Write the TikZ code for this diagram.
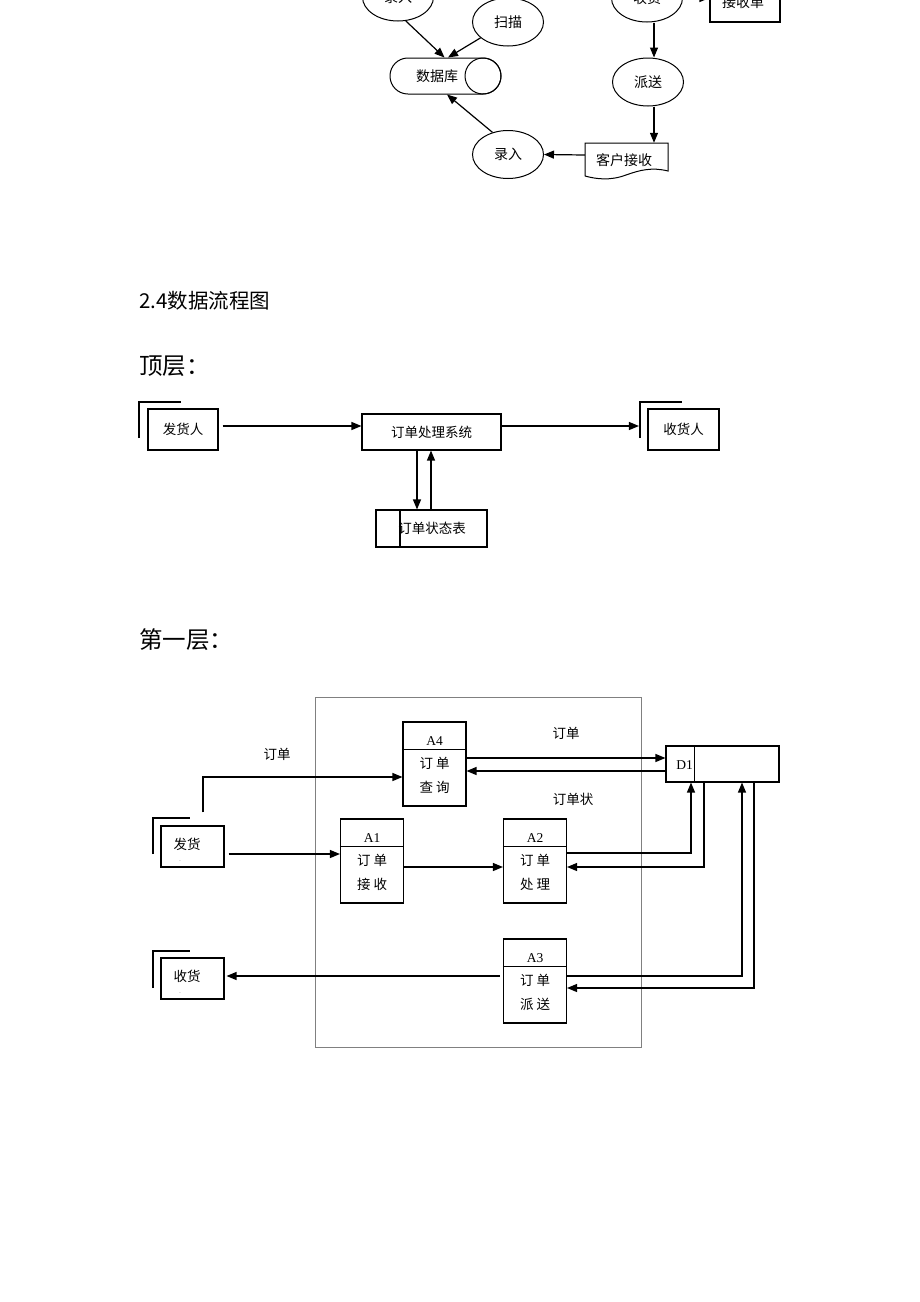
\documentclass[tikz,border=0pt]{standalone}
\usepackage{fontspec}
\setmainfont{Noto Sans CJK SC}
\newfontfamily\latf{Liberation Serif}
\usetikzlibrary{arrows.meta,calc,shapes.geometric}
\newcommand\fsm{\fontsize{13.5}{14}\selectfont}
\newcommand\ftop{\fontsize{14}{15}\selectfont}
\tikzset{
  ln/.style={line width=1.1pt},
  arr/.style={line width=1.2pt,-{Triangle[length=10pt,width=8pt]}},
  bx/.style={draw,line width=1.1pt,inner sep=0pt,font=\fsm},
  ell/.style={draw,ellipse,line width=1pt,minimum width=71pt,minimum height=48pt,inner sep=0pt,font=\ftop},
  pr/.style={bx,minimum width=63pt,minimum height=84pt},
  lbl/.style={inner sep=0pt,font=\fsm},
  hd/.style={inner sep=0pt,anchor=west},
}
\begin{document}
\begin{tikzpicture}[x=1pt,y=-1pt]
\useasboundingbox (0,0) rectangle (920,1302);
\clip (0,0) rectangle (920,1302);
\fill[white] (0,0) rectangle (920,1302);

% ---------------- top flow chart ----------------
\node[ell] (lr1) at (398,-3) {录入};
\node[ell] (sm) at (508,22) {扫描};
\node[draw,line width=1pt,rounded corners=17.9pt,minimum width=111pt,minimum height=36pt,inner sep=0pt] (db) at (445.5,76) {};
\node[draw,circle,line width=1pt,minimum size=36pt,inner sep=0pt] (dbc) at (483,76) {};
\node[lbl,font=\ftop] (dbt) at (437,76) {数据库};
\draw[arr] (lr1.-72) -- ([xshift=-1pt]db.north);
\draw[arr] (sm.-150) -- ([xshift=2.5pt]db.north);
\node[ell] (lr2) at (508,154.5) {录入};
\draw[arr] (lr2.125) -- ([xshift=1.5pt]db.south);

\node[ell] (shou) at (647,-2) {收货};
\node[bx,minimum width=70pt,minimum height=44pt,font=\ftop] (jsd) at (745,0) {};
\node[lbl,font=\ftop] (jsdt) at (743,2) {接收单};
\draw[arr] (shou.east) -- (shou.east -| jsd.west);
\node[ell] (ps) at (648,82) {派送};
\draw[arr] ([xshift=7pt]shou.south) -- ([xshift=6pt]ps.north);
\node[minimum width=83pt,minimum height=35pt,inner sep=0pt] (kh) at (626.5,160.5) {};
\draw[line width=1pt] (585,176) -- (585,143) -- (668,143) -- (668,171)
   .. controls (652,167) and (640,170) .. (626,175)
   .. controls (610,181) and (596,179) .. (585,176);
\node[lbl,font=\ftop] (kht) at (624,160) {客户接收};
\draw[arr] ([xshift=6pt]ps.south) -- ([xshift=27.5pt]kh.north);
\draw[arr] ([yshift=5.5pt]kh.west) -- (lr2.east);

% ---------------- headings ----------------
\node[hd,font=\fontsize{20.5}{22}\selectfont] (h1) at (139,301) {2.4数据流程图};
\node[hd,font=\fontsize{23.5}{25}\selectfont] (h2) at (139,366) {顶层：};

% ---------------- top level DFD ----------------
\node[bx,minimum width=70pt,minimum height=41pt] (snd) at (183,429.5) {发货人};
\draw[ln] (139,438) -- (139,402) -- (181,402);
\node[bx,minimum width=139pt,minimum height=36pt] (sys) at (431.5,432) {订单处理系统};
\node[bx,minimum width=71pt,minimum height=41pt] (rcv) at (683.5,429.5) {收货人};
\draw[ln] (640,438) -- (640,402) -- (682,402);
\node[bx,minimum width=111pt,minimum height=37pt] (tbl) at (431.5,528.5) {};
\draw[ln] ([xshift=24.5pt]tbl.north west) -- ([xshift=24.5pt]tbl.south west);
\node[lbl] (tblt) at (432,528) {订单状态表};
\draw[arr] ([xshift=4pt,yshift=3.5pt]snd.east) -- ([yshift=6pt]sys.west);
\draw[arr] ([yshift=6pt]sys.east) -- ([xshift=-8.5pt,yshift=3.5pt]rcv.west);
\draw[arr] ([xshift=-14.5pt]sys.south) -- ([xshift=-14.5pt]tbl.north);
\draw[arr] ([xshift=-0.5pt]tbl.north) -- ([xshift=-0.5pt]sys.south);

% ---------------- first level ----------------
\node[hd,font=\fontsize{23.5}{25}\selectfont] (h3) at (139,640) {第一层：};
\draw[gray,line width=0.7pt] (315.5,697.5) rectangle (641.5,1047.5);

% processes
\foreach \nm/\cx/\cy/\lab/\ra/\rb/\rc/\rd in {A4/434.5/764/A4/订/单/查/询, A1/372/861/A1/订/单/接/收, A2/535/861/A2/订/单/处/理, A3/535/981/A3/订/单/派/送}{
  \node[pr] (\nm) at (\cx,\cy) {};
  \draw[ln] ([yshift=-28pt]\nm.north west) -- ([yshift=-28pt]\nm.north east);
  \node[lbl,font=\latf\fsm] (\nm-l) at ([yshift=-20pt]\nm.north) {\lab};
  \node[lbl] (\nm-r1) at ([yshift=-42pt]\nm.north) {\ra\hspace{3pt}\rb};
  \node[lbl] (\nm-r2) at ([yshift=-66pt]\nm.north) {\rc\hspace{3pt}\rd};
}

% data store D1
\node[bx,minimum width=113pt,minimum height=36pt] (D1) at (722.5,764) {};
\draw[ln] ([xshift=29pt]D1.north west) -- ([xshift=29pt]D1.south west);
\node[lbl,font=\latf\fsm] (D1t) at (684.5,765) {D1};

% external entities
\node[bx,minimum width=63pt,minimum height=41pt] (fh) at (192.5,846.5) {};
\node[lbl] (fht) at (187,844) {发货};
\node[inner sep=0pt,font=\fontsize{7}{7}\selectfont,text=gray] (fhd) at (180,861) {.};
\draw[ln] (153,854) -- (153,818) -- (190,818);
\node[bx,minimum width=63pt,minimum height=41pt] (sh2) at (192.5,978.5) {};
\node[lbl] (sh2t) at (187,976) {收货};
\node[inner sep=0pt,font=\fontsize{7}{7}\selectfont,text=gray] (sh2d) at (180,993) {.};
\draw[ln] (153,988) -- (153,951) -- (190,951);

% flows
\draw[arr] ([xshift=4pt,yshift=-7.5pt]fh.east) -- ([yshift=7pt]A1.west);
\draw[arr] ([xshift=10.5pt,yshift=13pt]fh.north) |- ([yshift=-13pt]A4.west);
\node[lbl] (l1) at (277,754) {订单};
\draw[arr] ([yshift=6pt]A4.east) -- ([yshift=6pt]D1.west);
\draw[arr] ([yshift=-7pt]D1.west) -- ([yshift=-7pt]A4.east);
\node[lbl] (l2) at (566,733) {订单};
\node[lbl] (l3) at (573,799) {订单状};
\draw[arr] ([yshift=-6pt]A1.east) -- ([yshift=-6pt]A2.west);
\draw[arr] ([yshift=8pt]A2.east) -| ([xshift=-31.5pt]D1.south);
\draw[arr] ([xshift=-18.5pt]D1.south) |- ([yshift=-6pt]A2.east);
\draw[arr] ([yshift=5pt]A3.east) -| ([xshift=19.5pt]D1.south);
\draw[arr] ([xshift=31.5pt]D1.south) |- ([yshift=-7pt]A3.east);
\draw[arr] ([xshift=-3pt,yshift=5pt]A3.west) -- ([xshift=2pt,yshift=2.5pt]sh2.east);
\end{tikzpicture}
\end{document}
